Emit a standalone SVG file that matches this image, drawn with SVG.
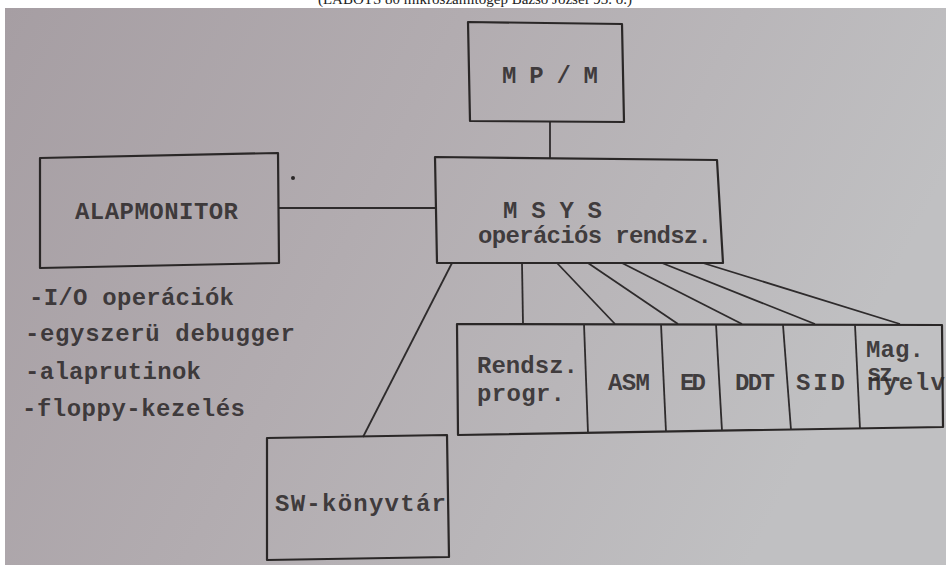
<svg xmlns="http://www.w3.org/2000/svg" width="946" height="565" viewBox="0 0 946 565">
<defs>
<linearGradient id="bg" x1="0" y1="0" x2="1" y2="0.3">
<stop offset="0" stop-color="#a69ea3"/>
<stop offset="0.45" stop-color="#b2acb0"/>
<stop offset="1" stop-color="#c0c0c2"/>
</linearGradient>
<style>
.box{fill:none;stroke:#2a2727;stroke-width:2.2;stroke-linejoin:round}
.ln{fill:none;stroke:#2e2b2c;stroke-width:1.8}
.t{font-family:"Liberation Mono","DejaVu Sans Mono",monospace;font-size:24px;fill:#2a2627;font-weight:bold;fill-opacity:0.85}
.cap{font-family:"Liberation Serif","Times New Roman",serif;font-size:15px;fill:#222}
</style>
</defs>
<rect x="0" y="0" width="946" height="565" fill="#ffffff"/>
<text class="cap" x="475" y="4" text-anchor="middle">(LABOTS 80 mikroszámítógép Bazsó József 93. o.)</text>
<rect x="5" y="8" width="941" height="557" fill="url(#bg)"/>
<circle cx="293" cy="178" r="2" fill="#2a2727"/>

<g id="connectors">
<line class="ln" x1="550" y1="122" x2="550" y2="159"/>
<line class="ln" x1="279" y1="208" x2="436" y2="208"/>
<line class="ln" x1="452" y1="263" x2="363" y2="437"/>
<line class="ln" x1="522" y1="263" x2="523" y2="324"/>
<line class="ln" x1="557" y1="263" x2="615" y2="324"/>
<line class="ln" x1="588" y1="263" x2="678" y2="324"/>
<line class="ln" x1="622" y1="263" x2="742" y2="324"/>
<line class="ln" x1="662" y1="263" x2="815" y2="324"/>
<line class="ln" x1="703" y1="263" x2="900" y2="324"/>
</g>

<g id="mpm">
<path class="box" d="M468,22 L622,24 L624,122 L470,121 Z"/>
<text class="t" x="502" y="83" textLength="96">M P / M</text>
</g>

<g id="msys">
<path class="box" d="M435,157 L717,160 L723,263 L437,263 Z"/>
<text class="t" x="503" y="218" textLength="99">M S Y S</text>
<text class="t" x="478" y="243" textLength="234">operációs rendsz.</text>
</g>

<g id="alapmonitor">
<path class="box" d="M40,158 L278,153 L279,263 L40,268 Z"/>
<text class="t" x="75" y="219" textLength="163">ALAPMONITOR</text>
</g>

<g id="alapmonitor-list">
<text class="t" x="29" y="305" textLength="205">-I/O operációk</text>
<text class="t" x="25" y="341" textLength="270">-egyszerü debugger</text>
<text class="t" x="25" y="379" textLength="176">-alaprutinok</text>
<text class="t" x="22" y="416" textLength="223">-floppy-kezelés</text>
</g>

<g id="programs">
<path class="box" d="M457,324 L942,325 L943,427 L458,435 Z"/>
<line class="ln" x1="584" y1="324" x2="588" y2="433"/>
<line class="ln" x1="661" y1="324" x2="666" y2="432"/>
<line class="ln" x1="716" y1="324" x2="722" y2="431"/>
<line class="ln" x1="783" y1="325" x2="791" y2="430"/>
<line class="ln" x1="855" y1="325" x2="860" y2="429"/>
</g>
<g id="rendsz-progr">
<text class="t" x="477" y="373" textLength="101">Rendsz.</text>
<text class="t" x="477" y="401" textLength="88">progr.</text>
</g>
<g id="asm"><text class="t" x="608" y="390" textLength="42">ASM</text></g>
<g id="ed"><text class="t" x="680" y="390" textLength="26">ED</text></g>
<g id="ddt"><text class="t" x="735" y="390" textLength="40">DDT</text></g>
<g id="sid"><text class="t" x="796" y="390" textLength="49">SID</text></g>
<g id="mag-nyelv">
<text class="t" x="866" y="357" textLength="58">Mag.</text>
<text class="t" x="867" y="381" textLength="38">sz.</text>
<text class="t" x="867" y="390" textLength="78">nyelv</text>
</g>

<g id="sw-konyvtar">
<path class="box" d="M267,438 L447,435 L449,557 L267,560 Z"/>
<text class="t" x="275" y="511" textLength="171">SW-könyvtár</text>
</g>
</svg>
